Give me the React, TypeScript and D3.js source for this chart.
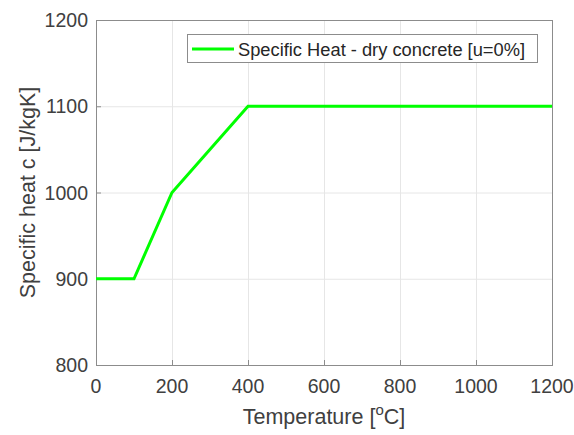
import * as d3 from 'd3'
import { useEffect, useRef } from 'react'

const temps = [0, 100, 200, 400, 1200]
const heat = [900, 900, 1000, 1100, 1100]
const xTicks = [0, 200, 400, 600, 800, 1000, 1200]
const yTicks = [800, 900, 1000, 1100, 1200]
const seriesName = 'Specific Heat - dry concrete [u=0%]'

export default function App() {
  const ref = useRef<SVGSVGElement>(null)

  useEffect(() => {
    document.body.style.margin = '0'
    const width = 574
    const height = 435
    const margin = { top: 20, right: 22, bottom: 70, left: 96 }
    const font = 'Liberation Sans, Arial, sans-serif'
    const textColor = '#404040'

    const svg = d3.select(ref.current)
    svg.selectAll('*').remove()
    svg.attr('width', width).attr('height', height)

    svg.append('rect').attr('width', width).attr('height', height).attr('fill', '#fff')

    const x = d3.scaleLinear().domain([0, 1200]).range([margin.left, width - margin.right])
    const y = d3.scaleLinear().domain([800, 1200]).range([height - margin.bottom, margin.top])

    // grid
    const grid = svg.append('g').attr('stroke', '#e6e6e6').attr('stroke-width', 1)
    grid.selectAll('line.vx')
      .data(xTicks.slice(1, -1))
      .join('line')
      .attr('x1', d => x(d) + 0.5).attr('x2', d => x(d) + 0.5)
      .attr('y1', y(800)).attr('y2', y(1200))
    grid.selectAll('line.hy')
      .data(yTicks.slice(1, -1))
      .join('line')
      .attr('class', 'hy')
      .attr('y1', d => y(d) + 0.5).attr('y2', d => y(d) + 0.5)
      .attr('x1', x(0)).attr('x2', x(1200))

    // axes frame
    svg.append('rect')
      .attr('x', x(0) + 0.5).attr('y', y(1200) + 0.5)
      .attr('width', x(1200) - x(0)).attr('height', y(800) - y(1200))
      .attr('fill', 'none').attr('stroke', '#8c8c8c').attr('stroke-width', 1)

    // tick marks (inward)
    const ticks = svg.append('g').attr('stroke', '#8c8c8c')
    ticks.selectAll('line.tx')
      .data(xTicks)
      .join('line')
      .attr('class', 'tx')
      .attr('x1', d => x(d) + 0.5).attr('x2', d => x(d) + 0.5)
      .attr('y1', y(800)).attr('y2', y(800) - 5)
    ticks.selectAll('line.ty')
      .data(yTicks)
      .join('line')
      .attr('class', 'ty')
      .attr('y1', d => y(d) + 0.5).attr('y2', d => y(d) + 0.5)
      .attr('x1', x(0)).attr('x2', x(0) + 5)

    // tick labels
    svg.append('g')
      .selectAll('text')
      .data(xTicks)
      .join('text')
      .attr('x', d => x(d))
      .attr('y', y(800) + 28)
      .attr('text-anchor', 'middle')
      .attr('font-family', font).attr('font-size', 19.5).attr('fill', textColor)
      .text(d => d)
    svg.append('g')
      .selectAll('text')
      .data(yTicks)
      .join('text')
      .attr('x', x(0) - 8)
      .attr('y', d => y(d) + 7)
      .attr('text-anchor', 'end')
      .attr('font-family', font).attr('font-size', 19.5).attr('fill', textColor)
      .text(d => d)

    // axis labels
    const xl = svg.append('text')
      .attr('x', (x(0) + x(1200)) / 2)
      .attr('y', y(800) + 59)
      .attr('text-anchor', 'middle')
      .attr('font-family', font).attr('font-size', 21.5).attr('fill', textColor)
    xl.append('tspan').text('Temperature [')
    xl.append('tspan').attr('font-size', 15).attr('dy', -9).text('o')
    xl.append('tspan').attr('dy', 9).text('C]')

    svg.append('text')
      .attr('transform', `translate(${x(0) - 61},${(y(800) + y(1200)) / 2}) rotate(-90)`)
      .attr('text-anchor', 'middle')
      .attr('font-family', font).attr('font-size', 21.5).attr('fill', textColor)
      .text('Specific heat c [J/kgK]')

    // data line
    const pts = temps.map((t, i) => [t, heat[i]] as [number, number])
    svg.append('path')
      .datum(pts)
      .attr('fill', 'none')
      .attr('stroke', '#00ff00')
      .attr('stroke-width', 3)
      .attr('d', d3.line<[number, number]>().x(d => x(d[0])).y(d => y(d[1])))

    // legend
    const lg = svg.append('g')
    lg.append('rect')
      .attr('x', 187.5).attr('y', 34.5).attr('width', 350).attr('height', 28)
      .attr('fill', '#fff').attr('stroke', '#8c8c8c')
    lg.append('line')
      .attr('x1', 192).attr('x2', 234).attr('y1', 49).attr('y2', 49)
      .attr('stroke', '#00ff00').attr('stroke-width', 3)
    lg.append('text')
      .attr('x', 238).attr('y', 55.5)
      .attr('font-family', font).attr('font-size', 18.3).attr('fill', '#262626')
      .text(seriesName)
  }, [])

  return <svg ref={ref}></svg>
}
